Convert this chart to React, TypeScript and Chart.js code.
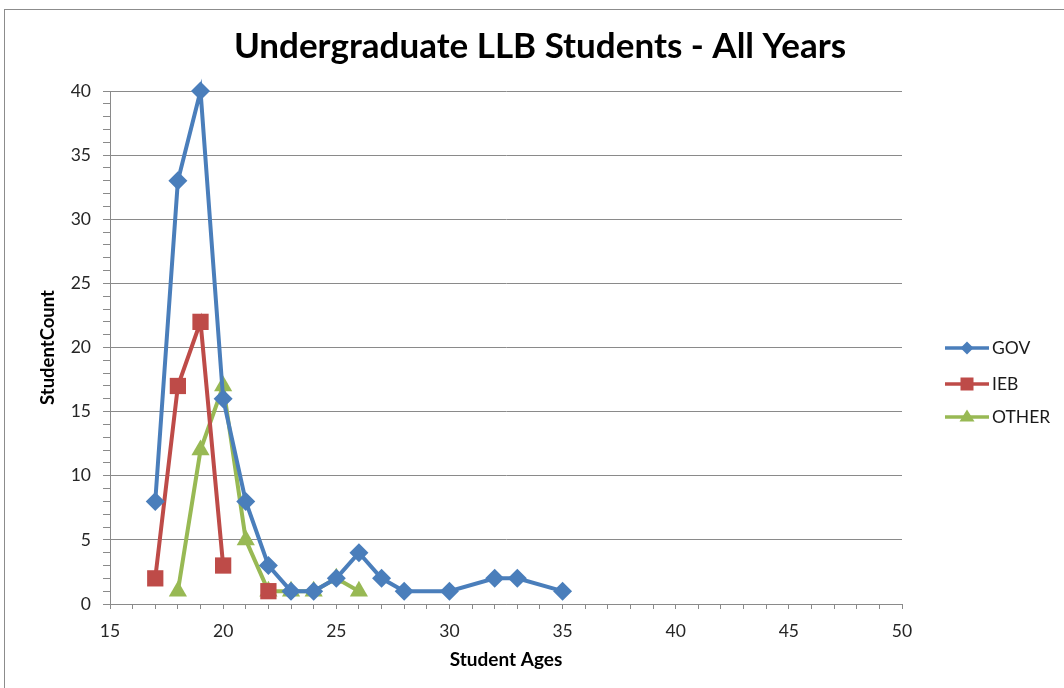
import React, { useEffect, useRef } from "react";
import { Chart, registerables } from "chart.js";

Chart.register(...registerables);

const chartTitle = "Undergraduate LLB Students - All Years";
const xTitle = "Student Ages";
const yTitle = "StudentCount";

const govAges = [17, 18, 19, 20, 21, 22, 23, 24, 25, 26, 27, 28, 30, 32, 33, 35];
const govCounts = [8, 33, 40, 16, 8, 3, 1, 1, 2, 4, 2, 1, 1, 2, 2, 1];

const iebAges = [17, 18, 19, 20, 21, 22];
const iebCounts: (number | null)[] = [2, 17, 22, 3, null, 1];

const otherAges = [18, 19, 20, 21, 22, 23, 24, 25, 26];
const otherCounts = [1, 12, 17, 5, 1, 1, 1, 2, 1];

const seriesNames = ["GOV", "IEB", "OTHER"];
const seriesColors = ["#4A7EBB", "#BE4B48", "#98B954"];
const seriesMarkers = ["rectRot", "rect", "triangle"];
const markerRadius = [9.5, 11.5, 10.5];

const xMin = 15;
const xMax = 50;
const yMin = 0;
const yMax = 40;

const FONT = "Lato, 'Open Sans', sans-serif";
const GRID = "#8a8a8a";

const toPoints = (xs: number[], ys: (number | null)[]) =>
  xs.map((x, i) => ({ x, y: ys[i] }));

const decorPlugin = {
  id: "decor",
  beforeDraw(chart: any) {
    const ctx = chart.ctx;
    ctx.save();
    ctx.fillStyle = "#ffffff";
    ctx.fillRect(0, 0, chart.width, chart.height);
    ctx.strokeStyle = "#8c8c8c";
    ctx.lineWidth = 1;
    ctx.strokeRect(4.5, 9.5, 1200, 1000);
    ctx.restore();
  },
  afterDraw(chart: any) {
    const ctx = chart.ctx;
    ctx.save();
    ctx.fillStyle = "#000000";
    ctx.font = `bold 35px ${FONT}`;
    ctx.textAlign = "center";
    ctx.textBaseline = "middle";
    ctx.fillText(chartTitle, 540, 47);

    const rows = [348, 384, 417];
    seriesNames.forEach((name, i) => {
      const y = rows[i];
      const color = seriesColors[i];
      ctx.strokeStyle = color;
      ctx.lineWidth = 3.5;
      ctx.beginPath();
      ctx.moveTo(945, y);
      ctx.lineTo(989, y);
      ctx.stroke();
      ctx.fillStyle = color;
      const cx = 967;
      ctx.beginPath();
      if (seriesMarkers[i] === "rectRot") {
        const r = 6.5;
        ctx.moveTo(cx, y - r);
        ctx.lineTo(cx + r, y);
        ctx.lineTo(cx, y + r);
        ctx.lineTo(cx - r, y);
      } else if (seriesMarkers[i] === "rect") {
        const s = 6.5;
        ctx.rect(cx - s, y - s, 2 * s, 2 * s);
      } else {
        const r = 7.5;
        ctx.moveTo(cx, y - r);
        ctx.lineTo(cx + r, y + 4.5);
        ctx.lineTo(cx - r, y + 4.5);
      }
      ctx.closePath();
      ctx.fill();
      ctx.fillStyle = "#1a1a1a";
      ctx.font = `17.5px ${FONT}`;
      ctx.textAlign = "left";
      ctx.textBaseline = "middle";
      ctx.fillText(name, 992, y);
    });
    ctx.restore();
  },
};

export default function App() {
  const ref = useRef<HTMLCanvasElement | null>(null);

  useEffect(() => {
    if (!ref.current) return;
    const allPoints = [
      toPoints(govAges, govCounts),
      toPoints(iebAges, iebCounts),
      toPoints(otherAges, otherCounts),
    ];
    const chart = new Chart(ref.current, {
      type: "line",
      data: {
        datasets: seriesNames.map((name, i) => ({
          label: name,
          data: allPoints[i] as any,
          borderColor: seriesColors[i],
          backgroundColor: seriesColors[i],
          borderWidth: 4,
          pointStyle: seriesMarkers[i] as any,
          pointRadius: markerRadius[i],
          pointBorderWidth: 0,
          pointBackgroundColor: seriesColors[i],
          pointBorderColor: seriesColors[i],
          spanGaps: false,
          tension: 0,
          clip: false as any,
        })),
      },
      options: {
        responsive: false,
        maintainAspectRatio: false,
        animation: false,
        layout: { padding: { left: 0, top: 91, right: 162, bottom: 0 } },
        plugins: {
          legend: { display: false },
          title: { display: false },
          tooltip: { enabled: false },
        },
        scales: {
          x: {
            type: "linear",
            min: xMin,
            max: xMax,
            afterFit: (s: any) => {
              s.height = 84;
            },
            ticks: {
              stepSize: 1,
              autoSkip: false,
              maxRotation: 0,
              padding: 12,
              color: "#262626",
              font: { family: FONT, size: 17.5 },
              callback: (v: any) => (Number(v) % 5 === 0 ? String(v) : ""),
            },
            grid: {
              drawOnChartArea: false,
              color: GRID,
              tickColor: GRID,
              tickLength: 5,
            },
            border: { color: GRID, width: 1 },
            title: {
              display: true,
              text: xTitle,
              color: "#000",
              font: { family: FONT, size: 19, weight: "bold" },
              padding: { top: 0, bottom: 17 },
            },
          },
          y: {
            type: "linear",
            min: yMin,
            max: yMax,
            afterFit: (s: any) => {
              s.width = 110;
            },
            ticks: {
              stepSize: 1,
              autoSkip: false,
              padding: 12,
              color: "#262626",
              font: { family: FONT, size: 17.5 },
              callback: (v: any) => (Number(v) % 5 === 0 ? String(v) : ""),
            },
            grid: {
              color: (c: any) =>
                c.tick && c.tick.value % 5 === 0 ? GRID : "rgba(0,0,0,0)",
              tickColor: GRID,
              tickLength: 7,
            },
            border: { color: GRID, width: 1 },
            title: {
              display: true,
              text: yTitle,
              color: "#000",
              font: { family: FONT, size: 18.5, weight: "bold" },
              padding: { top: 37, bottom: 0 },
            },
          },
        },
      },
      plugins: [decorPlugin],
    });
    return () => chart.destroy();
  }, []);

  return (
    <div style={{ position: "absolute", left: 0, top: 0, width: 1064, height: 688 }}>
      <canvas ref={ref} width={1064} height={688} style={{ display: "block" }} />
    </div>
  );
}
